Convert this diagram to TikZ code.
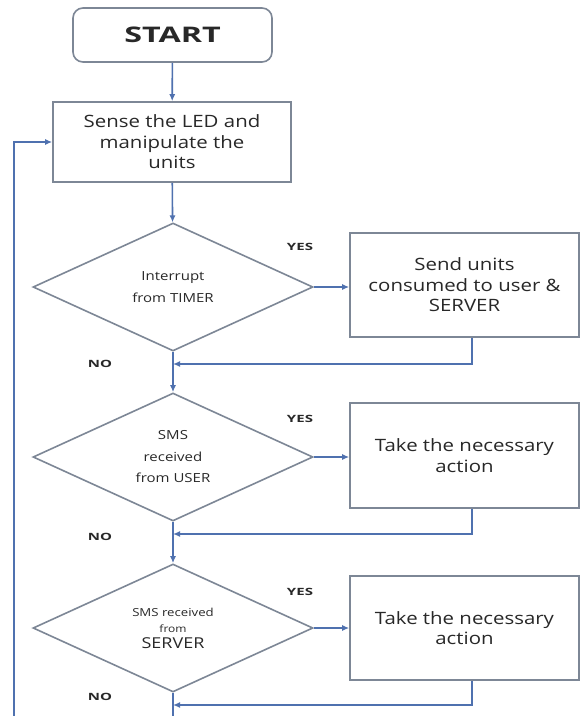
\documentclass[tikz,border=0pt]{standalone}
\usepackage{fontspec}
\setmainfont{Open Sans}[FakeStretch=1.2]
\newfontfamily\startfont{Open Sans}[FakeStretch=1.5]
\newfontfamily\lblfont{Open Sans}[FakeStretch=1.5]
\usetikzlibrary{shapes.geometric,arrows.meta}
\definecolor{linkc}{RGB}{79,113,175}
\definecolor{edgec}{RGB}{125,135,150}
\definecolor{txtc}{RGB}{40,40,40}
\begin{document}
\begin{tikzpicture}[x=1pt,y=-1pt,
  box/.style={draw=edgec,line width=1.6pt,fill=white,text=txtc,align=center,inner sep=0pt},
  startbox/.style={box,rounded corners=10pt,minimum width=199pt,minimum height=54pt,font=\startfont\bfseries\fontsize{21.5}{24}\selectfont},
  procbox/.style={box,font=\fontsize{17}{20.5}\selectfont},
  decision/.style={diamond,aspect=2.2,draw=edgec,line width=1.6pt,fill=white,text=txtc,align=center,inner sep=0pt,minimum width=280pt,minimum height=128pt,font=\fontsize{12.5}{21.5}\selectfont},
  flow/.style={draw=linkc,line width=1.6pt,-{Latex[length=7pt,width=6pt]}},
  plainflow/.style={draw=linkc,line width=1.6pt},
  lbl/.style={text=txtc,font=\lblfont\bfseries\fontsize{10}{12}\selectfont,inner sep=0pt}
]
\fill[white] (0,0) rectangle (581,716);
\useasboundingbox (0,0) rectangle (581,716);

\node[startbox] (start) at (172.5,35) {START};
\node[procbox,minimum width=238pt,minimum height=80pt] (sense) at (172,142) {Sense the LED and\\manipulate the\\units};

\node[decision] (d1) at (173,287) {Interrupt\\from TIMER};
\node[procbox,minimum width=229pt,minimum height=104pt] (r1) at (464.5,285) {Send units\\consumed to user \&\\SERVER};

\node[decision] (d2) at (173,457) {SMS\\received\\from USER};
\node[procbox,minimum width=229pt,minimum height=105pt] (r2) at (464.5,455.5) {Take the necessary\\action};

\node[decision,font=\fontsize{11}{16}\selectfont] (d3) at (173,628) {{\fontsize{11}{16}\selectfont SMS received}\\{\fontsize{10}{16}\selectfont from}\\{\fontsize{15}{18}\selectfont SERVER}};
\node[procbox,minimum width=229pt,minimum height=104pt] (r3) at (464.5,628) {Take the necessary\\action};

\node[lbl] (yes1) at (300,247) {YES};
\node[lbl] (no1) at (100,364) {NO};
\node[lbl] (yes2) at (300,419) {YES};
\node[lbl] (no2) at (100,537) {NO};
\node[lbl] (yes3) at (300,592) {YES};
\node[lbl] (no3) at (100,697) {NO};

\coordinate (j1) at (173,364);
\coordinate (j2) at (173,534);
\coordinate (j3) at (173,705);
\coordinate (bot) at (173,716);
\coordinate (loopb) at (14,716);

\draw[flow] (start) -- (sense);
\draw[flow] (sense) -- (d1);
\draw[flow] (d1.east) -- (d1.east -| r1.west);
\draw[flow] ([xshift=7.5pt]r1.south) |- (j1);
\draw[flow] (d1.south) -- (d2.north);
\draw[flow] (d2.east) -- (d2.east -| r2.west);
\draw[flow] ([xshift=7.5pt]r2.south) |- (j2);
\draw[flow] (d2.south) -- (d3.north);
\draw[flow] (d3.east) -- (d3.east -| r3.west);
\draw[flow] ([xshift=7.5pt]r3.south) |- (j3);
\draw[plainflow] (d3.south) -- (bot);
\draw[flow] (loopb) |- (sense.west);
\end{tikzpicture}
\end{document}
